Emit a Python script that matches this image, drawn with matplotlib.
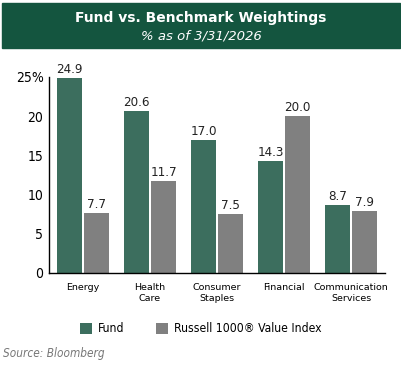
import numpy as np
import matplotlib.pyplot as plt
from matplotlib.patches import Rectangle

categories = ["Energy", "Health\nCare", "Consumer\nStaples", "Financial", "Communication\nServices"]
fund = [24.9, 20.6, 17.0, 14.3, 8.7]
index = [7.7, 11.7, 7.5, 20.0, 7.9]
yticks = [0, 5, 10, 15, 20, 25]
ytick_labels = ["0", "5", "10", "15", "20", "25%"]

GREEN = "#3c6e5e"
GRAY = "#808080"
HEADER = "#14553f"
NARROW = dict(family="DejaVu Sans", stretch="condensed")

fig = plt.figure(figsize=(4.02, 3.69), dpi=100)

# header band
fig.patches.append(Rectangle((2 / 402, 1 - 48 / 369), 398 / 402, 45 / 369,
                             transform=fig.transFigure, color=HEADER, zorder=0))
fig.text(0.5, 1 - 18 / 369, "Fund vs. Benchmark Weightings", color="white",
         fontsize=10, fontweight="bold", ha="center", va="center")
fig.text(0.5, 1 - 36 / 369, "% as of 3/31/2026", color="white",
         fontsize=9.5, style="italic", ha="center", va="center")

ax = fig.add_axes([49 / 402, 96 / 369, 336 / 402, 196 / 369])
x = np.arange(len(categories))
w = 0.373
gap = 0.015
b1 = ax.bar(x - w / 2 - gap, fund, w, color=GREEN, label="Fund")
b2 = ax.bar(x + w / 2 + gap, index, w, color=GRAY, label="Russell 1000\u00ae Value Index")

for bars, vals in ((b1, fund), (b2, index)):
    for bar, v in zip(bars, vals):
        ax.annotate(f"{v:.1f}", (bar.get_x() + bar.get_width() / 2, v),
                    xytext=(0, 1.5), textcoords="offset points", ha="center", va="bottom",
                    fontsize=9.5, color="#222222", **NARROW)

ax.set_xlim(-0.507, 4.507)
ax.set_ylim(0, 25)
ax.set_yticks(yticks)
ax.set_yticklabels(ytick_labels, fontsize=10, **NARROW)
ax.set_xticks(x)
ax.set_xticklabels(categories, fontsize=6.8, linespacing=1.35)
ax.tick_params(axis="x", length=0, pad=7)
ax.tick_params(axis="y", length=0, pad=4)
for s in ("top", "right"):
    ax.spines[s].set_visible(False)
for s in ("left", "bottom"):
    ax.spines[s].set_color("black")
    ax.spines[s].set_linewidth(1.0)

fig.legend(handles=[b1, b2], loc="center", bbox_to_anchor=(0.5, 1 - 329 / 369),
           ncol=2, frameon=False, handlelength=1.0, handleheight=1.0,
           columnspacing=2.6, handletextpad=0.5,
           prop={"family": "DejaVu Sans", "stretch": "condensed", "size": 8.7})

fig.text(3 / 402, 1 - 353 / 369, "Source: Bloomberg", color="#777777",
         fontsize=8.5, style="italic", ha="left", va="center", **NARROW)

fig.savefig("out.png", dpi=100)
